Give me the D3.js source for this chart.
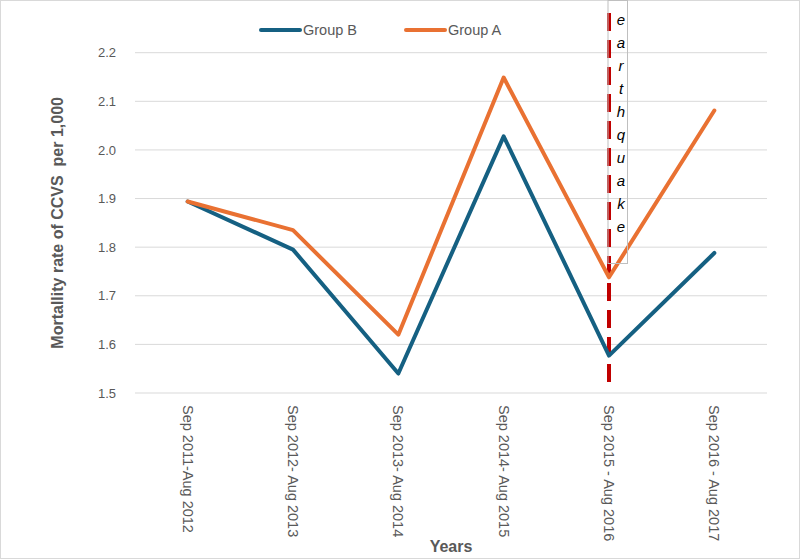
<!DOCTYPE html>
<html>
<head>
<meta charset="utf-8">
<script src="https://cdn.jsdelivr.net/npm/d3@7"></script>
<style>
  body { margin: 0; background: #fff; }
  text { font-family: "Liberation Sans", Arial, sans-serif; }
</style>
</head>
<body>
<svg id="chart" width="800" height="560"></svg>
<script>
var periods = ["Sep 2011-Aug 2012", "Sep 2012- Aug 2013", "Sep 2013- Aug 2014",
               "Sep 2014- Aug 2015", "Sep 2015 - Aug 2016", "Sep 2016 - Aug 2017"];
var groupB = [1.894, 1.795, 1.540, 2.028, 1.577, 1.788];
var groupA = [1.894, 1.835, 1.620, 2.149, 1.738, 2.081];
var yTicks = [1.5, 1.6, 1.7, 1.8, 1.9, 2.0, 2.1, 2.2];
var eventPeriod = "Sep 2015 - Aug 2016";
var eventLabel = "earthquake";

var width = 800, height = 560;
var plotLeft = 135, plotRight = 767, plotTop = 52.7, plotBottom = 393;

var svg = d3.select("#chart");

// outer frame
svg.append("rect")
  .attr("x", 0.5).attr("y", 0.5)
  .attr("width", width - 1).attr("height", height - 2)
  .attr("fill", "none").attr("stroke", "#d9d9d9");

var x = d3.scaleBand().domain(periods).range([plotLeft, plotRight]);
var y = d3.scaleLinear().domain([1.5, 2.2]).range([plotBottom, plotTop]);

// gridlines
svg.append("g")
  .selectAll("line")
  .data(yTicks)
  .enter()
  .append("line")
  .attr("x1", plotLeft).attr("x2", plotRight)
  .attr("y1", d => y(d)).attr("y2", d => y(d))
  .attr("stroke", "#d9d9d9")
  .attr("stroke-width", 1);

// y axis labels
var yAxis = svg.append("g")
  .attr("transform", "translate(" + (plotLeft - 16) + ",0)")
  .call(d3.axisLeft(y).tickValues(yTicks).tickFormat(d3.format(".1f")).tickSize(0));
yAxis.select(".domain").remove();
yAxis.selectAll("text")
  .attr("fill", "#595959")
  .style("font-size", "13px");

// x axis labels, rotated
var xAxis = svg.append("g")
  .attr("transform", "translate(0," + plotBottom + ")")
  .call(d3.axisBottom(x).tickSize(0));
xAxis.select(".domain").remove();
xAxis.selectAll("text")
  .attr("fill", "#595959")
  .style("font-size", "14.5px")
  .attr("text-anchor", "start")
  .attr("dy", "0.35em")
  .attr("transform", "translate(0,12) rotate(90)")
  .attr("y", 0)
  .attr("x", 0);

// axis titles
svg.append("text")
  .attr("x", (plotLeft + plotRight) / 2)
  .attr("y", 552)
  .attr("text-anchor", "middle")
  .attr("fill", "#595959")
  .style("font-weight", "bold")
  .style("font-size", "16px")
  .text("Years");

svg.append("text")
  .attr("transform", "translate(63," + (plotTop + plotBottom) / 2 + ") rotate(-90)")
  .attr("text-anchor", "middle")
  .attr("fill", "#595959")
  .style("font-weight", "bold")
  .style("font-size", "16px")
  .style("white-space", "pre")
  .text("Mortallity rate of CCVS  per 1,000");

// earthquake marker
var ex = x(eventPeriod) + x.bandwidth() / 2;
svg.append("line")
  .attr("x1", ex).attr("x2", ex)
  .attr("y1", 13).attr("y2", 385)
  .attr("stroke", "#c00000")
  .attr("stroke-width", 4)
  .attr("stroke-dasharray", "18,9");

var line = d3.line()
  .x((d, i) => x(periods[i]) + x.bandwidth() / 2)
  .y(d => y(d));

var series = [
  { name: "Group B", values: groupB, color: "#156082" },
  { name: "Group A", values: groupA, color: "#e97132" }
];

svg.append("g")
  .selectAll("path")
  .data(series)
  .enter()
  .append("path")
  .attr("d", d => line(d.values))
  .attr("fill", "none")
  .attr("stroke", d => d.color)
  .attr("stroke-width", 4)
  .attr("stroke-linejoin", "round")
  .attr("stroke-linecap", "round");

// earthquake text box
var box = svg.append("g");
box.append("rect")
  .attr("x", ex - 1).attr("y", 0.5)
  .attr("width", 19.5).attr("height", 263)
  .attr("fill", "none")
  .attr("stroke", "#bfbfbf")
  .attr("stroke-width", 1);
box.selectAll("text")
  .data(eventLabel.split(""))
  .enter()
  .append("text")
  .attr("x", ex + 12)
  .attr("y", (d, i) => 25 + i * 23)
  .attr("text-anchor", "middle")
  .attr("fill", "#000")
  .style("font-style", "italic")
  .style("font-size", "15px")
  .text(d => d);

// legend
var legend = svg.append("g")
  .selectAll("g")
  .data(series)
  .enter()
  .append("g")
  .attr("transform", (d, i) => "translate(" + (261 + i * 145) + ",30)");
legend.append("line")
  .attr("x1", 0).attr("x2", 39)
  .attr("stroke", d => d.color)
  .attr("stroke-width", 4)
  .attr("stroke-linecap", "round");
legend.append("text")
  .attr("x", 42)
  .attr("dy", "0.35em")
  .attr("fill", "#595959")
  .style("font-size", "14.5px")
  .text(d => d.name);
</script>
</body>
</html>
